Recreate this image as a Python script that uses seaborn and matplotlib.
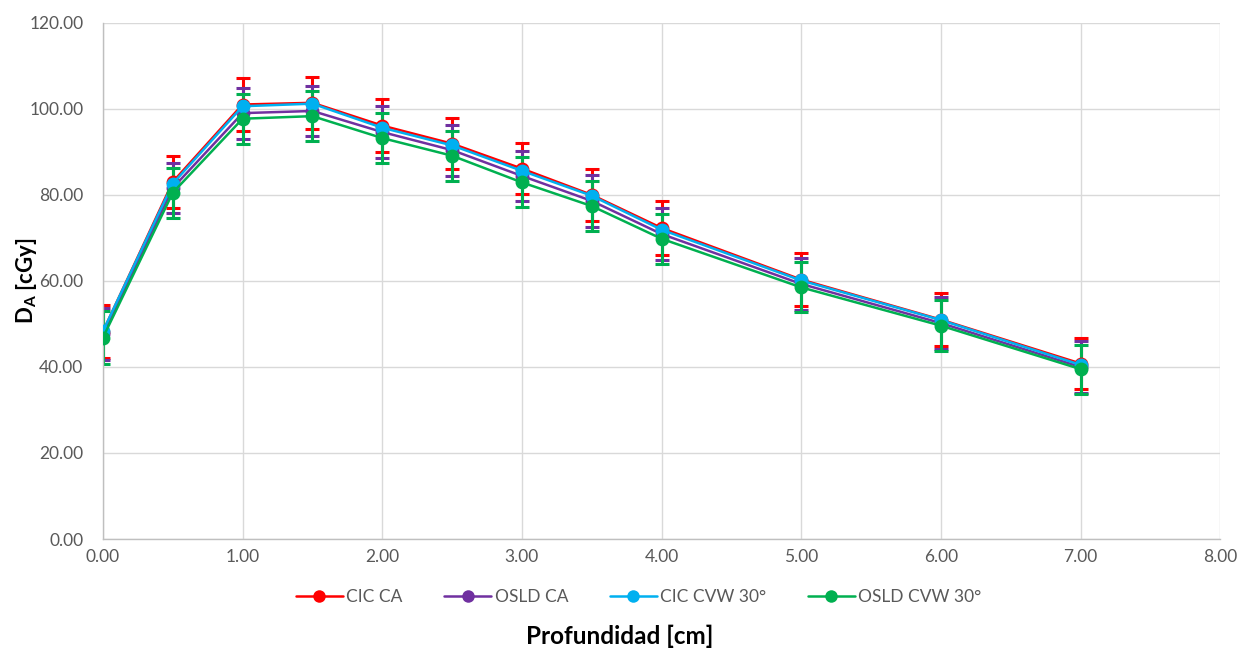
import matplotlib
matplotlib.use("Agg")
import matplotlib.pyplot as plt
from matplotlib.ticker import MultipleLocator, FormatStrFormatter
from matplotlib.lines import Line2D
import seaborn as sns
import pandas as pd

# Depth (cm) and absorbed dose (cGy) for each detector / setup
depth = [0.0, 0.5, 1.0, 1.5, 2.0, 2.5, 3.0, 3.5, 4.0, 5.0, 6.0, 7.0]
cic_ca = [48.2, 83.0, 101.0, 101.4, 96.1, 91.9, 86.1, 80.0, 72.3, 60.3, 51.0, 40.8]
osld_ca = [47.6, 81.6, 99.0, 99.5, 94.6, 90.4, 84.4, 78.6, 70.9, 59.3, 50.2, 40.0]
cic_cvw = [48.3, 82.6, 100.6, 101.2, 95.6, 91.5, 85.6, 79.8, 71.9, 60.1, 50.9, 40.5]
osld_cvw = [46.8, 80.5, 97.7, 98.3, 93.2, 89.1, 82.9, 77.4, 69.8, 58.5, 49.6, 39.5]

# Uncertainty (± cGy)
err_cic_ca = [6.1, 6.0, 6.1, 6.1, 6.1, 6.0, 6.0, 6.1, 6.2, 6.1, 6.1, 6.0]
err_osld_ca = [6.0, 5.9, 5.9, 5.9, 6.0, 5.9, 5.9, 6.0, 6.0, 6.0, 6.0, 6.0]
err_osld_cvw = [6.1, 5.8, 5.8, 5.8, 5.8, 5.8, 5.8, 5.9, 5.8, 5.8, 5.9, 5.7]

series_names = ["CIC CA", "OSLD CA", "CIC CVW 30°", "OSLD CVW 30°"]
series_vals = [cic_ca, osld_ca, cic_cvw, osld_cvw]
series_err = [err_cic_ca, err_osld_ca, None, err_osld_cvw]
colors = ["#FF0000", "#7030A0", "#00B0F0", "#00B050"]

sns.set_theme(style="white")
plt.rcParams["font.family"] = ["Lato", "DejaVu Sans"]
plt.rcParams["mathtext.fontset"] = "custom"
plt.rcParams["mathtext.rm"] = "Lato:bold"
plt.rcParams["mathtext.bf"] = "Lato:bold"

df = pd.concat(
    [pd.DataFrame({"depth": depth, "dose": v, "serie": n}) for n, v in zip(series_names, series_vals)],
    ignore_index=True,
)

fig = plt.figure(figsize=(12.4, 6.51), dpi=100)
ax = fig.add_axes([0.083, 0.172, 0.901, 0.793])

# error bars first, then lines and markers on top
for name, vals, err, col in zip(series_names, series_vals, series_err, colors):
    if err is not None:
        ax.errorbar(depth, vals, yerr=err, fmt="none", ecolor=col, elinewidth=2.2,
                    capsize=5, capthick=2.2, zorder=2)

sns.lineplot(data=df, x="depth", y="dose", hue="serie", hue_order=series_names,
             palette=colors, marker="o", markersize=10, markeredgewidth=0,
             linewidth=1.8, ax=ax, legend=False, zorder=3)

ax.set_xlim(0, 8)
ax.set_ylim(0, 120)
ax.xaxis.set_major_locator(MultipleLocator(1))
ax.yaxis.set_major_locator(MultipleLocator(20))
ax.xaxis.set_major_formatter(FormatStrFormatter("%.2f"))
ax.yaxis.set_major_formatter(FormatStrFormatter("%.2f"))
ax.grid(True, color="#D9D9D9", linewidth=1.0)
ax.set_axisbelow(True)
for side in ["top", "right"]:
    ax.spines[side].set_visible(False)
for side in ["left", "bottom"]:
    ax.spines[side].set_color("#BFBFBF")
    ax.spines[side].set_linewidth(1.0)
ax.tick_params(axis="both", labelsize=12.5, labelcolor="#595959", length=0)
ax.tick_params(axis="y", pad=14)
ax.tick_params(axis="x", pad=7)

ax.set_xlabel("")
ax.set_ylabel(r"D$_\mathrm{A}$ [cGy]", fontsize=16, fontweight="bold", color="black")
ax.yaxis.set_label_coords(-0.057, 0.5)
fig.text(0.5, 0.022, "Profundidad [cm]", ha="center", va="center",
         fontsize=17.5, fontweight="bold", color="black")

handles = [Line2D([0], [0], color=c, lw=1.8, marker="o", markersize=9, markeredgewidth=0)
           for c in colors]
leg = fig.legend(handles, series_names, loc="center", bbox_to_anchor=(0.515, 0.083),
                 ncol=4, frameon=False, fontsize=12.5, handlelength=2.7,
                 columnspacing=2.4, handletextpad=0.2)
for t in leg.get_texts():
    t.set_color("#595959")

fig.savefig("out.png", dpi=100)
